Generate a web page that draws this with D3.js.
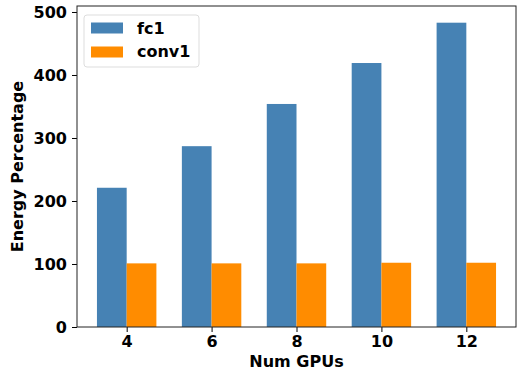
<!DOCTYPE html>
<html>
<head>
<meta charset="utf-8">
<script src="https://cdn.jsdelivr.net/npm/d3@7"></script>
<style>
  body { margin: 0; background: #fff; }
  text { font-family: "DejaVu Sans", sans-serif; font-weight: bold; }
</style>
</head>
<body>
<div id="chart"></div>
<script>
// data
var gpus = ["4", "6", "8", "10", "12"]
var fc1 = [221, 287, 354, 419, 483]
var conv1 = [101, 101, 101, 102, 102]
var series = ["fc1", "conv1"]
var colors = ["#4682b4", "#ff8c00"]
var yTicks = [0, 100, 200, 300, 400, 500]

var width = 519, height = 372
var margin = {left: 77, right: 3, top: 6, bottom: 45}
var w = width - margin.left - margin.right
var h = height - margin.top - margin.bottom

var svg = d3.select("#chart").append("svg")
    .attr("width", width)
    .attr("height", height)

var g = svg.append("g")
    .attr("transform", "translate(" + margin.left + "," + margin.top + ")")

// matplotlib style: index scale with 0.35 bar width and 5% margins
var barW = 0.35
var x = d3.scaleLinear()
    .domain([-barW - 0.235, gpus.length - 1 + barW + 0.235])
    .range([0, w])
var y = d3.scaleLinear()
    .domain([0, 509.5])
    .range([h, 0])

var groups = [fc1, conv1]
groups.forEach(function(vals, s) {
  g.append("g").selectAll("rect")
    .data(vals)
    .join("rect")
      .attr("x", (d, i) => x(i + (s - 1) * barW))
      .attr("width", x(barW) - x(0))
      .attr("y", d => y(d))
      .attr("height", d => y(0) - y(d))
      .attr("fill", colors[s])
})

// axes
var xAxis = g.append("g")
    .attr("transform", "translate(0," + h + ")")
    .call(d3.axisBottom(x).tickValues(d3.range(gpus.length)).tickFormat(i => gpus[i]).tickSize(5).tickSizeOuter(0))
var yAxis = g.append("g")
    .call(d3.axisLeft(y).tickValues(yTicks).tickSize(5).tickSizeOuter(0))

xAxis.selectAll("text").attr("font-size", 16).attr("y", 20).attr("dy", null).attr("fill", "#000")
yAxis.selectAll("text").attr("font-size", 16).attr("x", -10).attr("dy", "0.36em").attr("fill", "#000")
g.selectAll(".domain").remove()
g.selectAll(".tick line").attr("stroke", "#000")

// frame
g.append("rect")
    .attr("width", w).attr("height", h)
    .attr("fill", "none")
    .attr("stroke", "#222")
    .attr("stroke-width", 1)

// labels
svg.append("text")
    .attr("x", margin.left + w / 2)
    .attr("y", 367)
    .attr("text-anchor", "middle")
    .attr("font-size", 16)
    .text("Num GPUs")
svg.append("text")
    .attr("transform", "translate(23," + (margin.top + h / 2) + ") rotate(-90)")
    .attr("text-anchor", "middle")
    .attr("font-size", 16)
    .text("Energy Percentage")

// legend
var leg = g.append("g").attr("transform", "translate(7,9)")
leg.append("rect")
    .attr("width", 115).attr("height", 52)
    .attr("rx", 3)
    .attr("fill", "#fff").attr("fill-opacity", 0.8)
    .attr("stroke", "#ddd")
series.forEach(function(name, i) {
  leg.append("rect")
      .attr("x", 7).attr("y", 7.5 + i * 24)
      .attr("width", 32).attr("height", 11)
      .attr("fill", colors[i])
  leg.append("text")
      .attr("x", 53).attr("y", 19 + i * 23)
      .attr("font-size", 16)
      .text(name)
})
</script>
</body>
</html>
